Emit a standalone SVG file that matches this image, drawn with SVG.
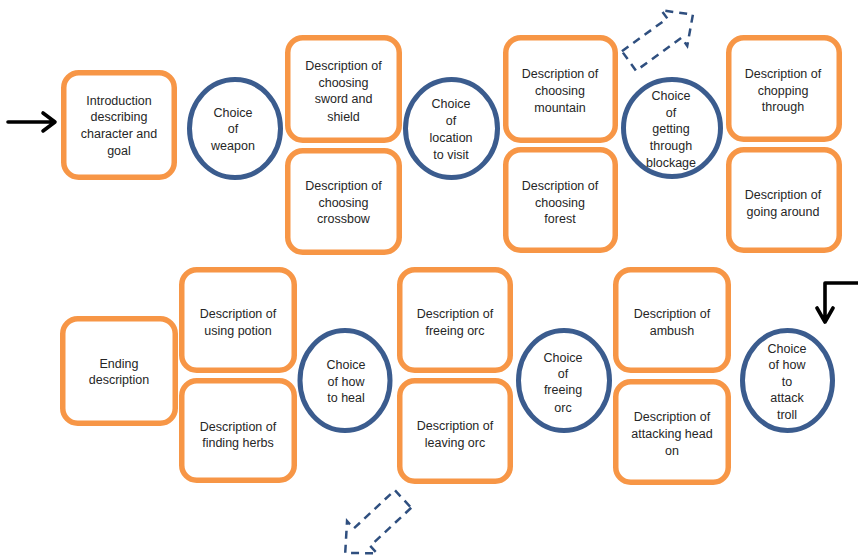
<svg xmlns="http://www.w3.org/2000/svg" width="858" height="558" viewBox="0 0 858 558">
  <style>
    .box { fill: #ffffff; stroke: #F79646; stroke-width: 5.5; }
    .choice { fill: #ffffff; stroke: #3B5C8E; stroke-width: 5; }
    .lbl { font-family: "Liberation Sans", Arial, sans-serif; font-size: 12.5px; fill: #262626; text-anchor: middle; }
    .flow { fill: none; stroke: #000000; stroke-width: 3.6; stroke-linecap: round; stroke-linejoin: round; }
    .hint { fill: none; stroke: #2F4F7F; stroke-width: 2.5; stroke-dasharray: 8 6; }
  </style>
  <defs>
    <!-- block arrow outline, pointing along +x from its tail -->
    <path id="blockArrow" d="M0,-12 L56,-12 L56,-22 L79,0 L56,22 L56,12 L0,12 Z"/>
  </defs>

  <rect width="858" height="558" fill="#ffffff"/>

  <!-- connectors -->
  <g id="connectors">
    <path class="flow" d="M8,122 H54 M43,113 L55,122 L43,131"/>
    <path class="flow" d="M858,283 H825 V321 M817,308 L825,322 L833,308"/>
    <use href="#blockArrow" class="hint" transform="translate(629,61) rotate(-36)"/>
    <use href="#blockArrow" class="hint" transform="translate(403,499) rotate(137)"/>
  </g>

  <!-- top row -->
  <g id="intro">
    <rect class="box" x="63.75" y="72.75" width="110.5" height="104.5" rx="15"/>
    <text class="lbl" x="119" y="104.5">Introduction</text>
    <text class="lbl" x="119" y="121">describing</text>
    <text class="lbl" x="119" y="137.5">character and</text>
    <text class="lbl" x="119" y="154.5">goal</text>
  </g>
  <g id="choice-weapon">
    <ellipse class="choice" cx="235" cy="128.5" rx="45.5" ry="49"/>
    <text class="lbl" x="233" y="116.5">Choice</text>
    <text class="lbl" x="233" y="132.5">of</text>
    <text class="lbl" x="233" y="149.5">weapon</text>
  </g>
  <g id="sword">
    <rect class="box" x="287.75" y="37.75" width="111.5" height="102.5" rx="15"/>
    <text class="lbl" x="343.5" y="69.5">Description of</text>
    <text class="lbl" x="343.5" y="86.5">choosing</text>
    <text class="lbl" x="343.5" y="102.5">sword and</text>
    <text class="lbl" x="343.5" y="120.5">shield</text>
  </g>
  <g id="crossbow">
    <rect class="box" x="287.75" y="150.75" width="111.5" height="101.5" rx="15"/>
    <text class="lbl" x="343.5" y="189.5">Description of</text>
    <text class="lbl" x="343.5" y="206.5">choosing</text>
    <text class="lbl" x="343.5" y="222.5">crossbow</text>
  </g>
  <g id="choice-location">
    <ellipse class="choice" cx="451.5" cy="128.5" rx="46" ry="49"/>
    <text class="lbl" x="451" y="107.5">Choice</text>
    <text class="lbl" x="451" y="124.5">of</text>
    <text class="lbl" x="451" y="141.5">location</text>
    <text class="lbl" x="451" y="158.5">to visit</text>
  </g>
  <g id="mountain">
    <rect class="box" x="505.75" y="37.75" width="109.5" height="102.5" rx="15"/>
    <text class="lbl" x="560" y="77.5">Description of</text>
    <text class="lbl" x="560" y="94.5">choosing</text>
    <text class="lbl" x="560" y="111.5">mountain</text>
  </g>
  <g id="forest">
    <rect class="box" x="505.75" y="149.75" width="109.5" height="100.5" rx="15"/>
    <text class="lbl" x="560" y="189.5">Description of</text>
    <text class="lbl" x="560" y="206.5">choosing</text>
    <text class="lbl" x="560" y="222.5">forest</text>
  </g>
  <g id="choice-blockage">
    <ellipse class="choice" cx="672" cy="128" rx="48.5" ry="48.5"/>
    <text class="lbl" x="671" y="99.5">Choice</text>
    <text class="lbl" x="671" y="116.5">of</text>
    <text class="lbl" x="671" y="132.5">getting</text>
    <text class="lbl" x="671" y="149.5">through</text>
    <text class="lbl" x="671" y="166.5">blockage</text>
  </g>
  <g id="chopping">
    <rect class="box" x="728.75" y="37.75" width="110.5" height="101.5" rx="15"/>
    <text class="lbl" x="783" y="77.5">Description of</text>
    <text class="lbl" x="783" y="94.5">chopping</text>
    <text class="lbl" x="783" y="110.5">through</text>
  </g>
  <g id="around">
    <rect class="box" x="728.75" y="149.75" width="110.5" height="100.5" rx="15"/>
    <text class="lbl" x="783" y="198.5">Description of</text>
    <text class="lbl" x="783" y="216">going around</text>
  </g>

  <!-- bottom row -->
  <g id="ending">
    <rect class="box" x="62.75" y="318.75" width="112.5" height="104.5" rx="15"/>
    <text class="lbl" x="119" y="367.5">Ending</text>
    <text class="lbl" x="119" y="383.5">description</text>
  </g>
  <g id="potion">
    <rect class="box" x="181.75" y="269.75" width="112.5" height="100.5" rx="15"/>
    <text class="lbl" x="238" y="317.5">Description of</text>
    <text class="lbl" x="238" y="334.5">using potion</text>
  </g>
  <g id="herbs">
    <rect class="box" x="181.75" y="380.75" width="112.5" height="99.5" rx="15"/>
    <text class="lbl" x="238" y="430.5">Description of</text>
    <text class="lbl" x="238" y="446.5">finding herbs</text>
  </g>
  <g id="choice-heal">
    <ellipse class="choice" cx="345" cy="380.5" rx="45" ry="50"/>
    <text class="lbl" x="346" y="368.5">Choice</text>
    <text class="lbl" x="346" y="385.5">of how</text>
    <text class="lbl" x="346" y="401.5">to heal</text>
  </g>
  <g id="free-orc">
    <rect class="box" x="399.75" y="269.75" width="110.5" height="100.5" rx="15"/>
    <text class="lbl" x="455" y="317.5">Description of</text>
    <text class="lbl" x="455" y="334.5">freeing orc</text>
  </g>
  <g id="leave-orc">
    <rect class="box" x="399.75" y="380.75" width="110.5" height="100.5" rx="15"/>
    <text class="lbl" x="455" y="429.5">Description of</text>
    <text class="lbl" x="455" y="446.5">leaving orc</text>
  </g>
  <g id="choice-orc">
    <ellipse class="choice" cx="564" cy="380.5" rx="45.5" ry="50"/>
    <text class="lbl" x="563" y="361.5">Choice</text>
    <text class="lbl" x="563" y="377.5">of</text>
    <text class="lbl" x="563" y="393.5">freeing</text>
    <text class="lbl" x="563" y="411.5">orc</text>
  </g>
  <g id="ambush">
    <rect class="box" x="615.75" y="269.75" width="112.5" height="100.5" rx="15"/>
    <text class="lbl" x="672" y="317.5">Description of</text>
    <text class="lbl" x="672" y="334.5">ambush</text>
  </g>
  <g id="head-on">
    <rect class="box" x="615.75" y="381.75" width="112.5" height="100.5" rx="15"/>
    <text class="lbl" x="672" y="420.5">Description of</text>
    <text class="lbl" x="672" y="437.5">attacking head</text>
    <text class="lbl" x="672" y="454.5">on</text>
  </g>
  <g id="choice-troll">
    <ellipse class="choice" cx="787.5" cy="380.5" rx="45" ry="50"/>
    <text class="lbl" x="787" y="352.5">Choice</text>
    <text class="lbl" x="787" y="368.5">of how</text>
    <text class="lbl" x="787" y="385.5">to</text>
    <text class="lbl" x="787" y="401.5">attack</text>
    <text class="lbl" x="787" y="418.5">troll</text>
  </g>
</svg>
